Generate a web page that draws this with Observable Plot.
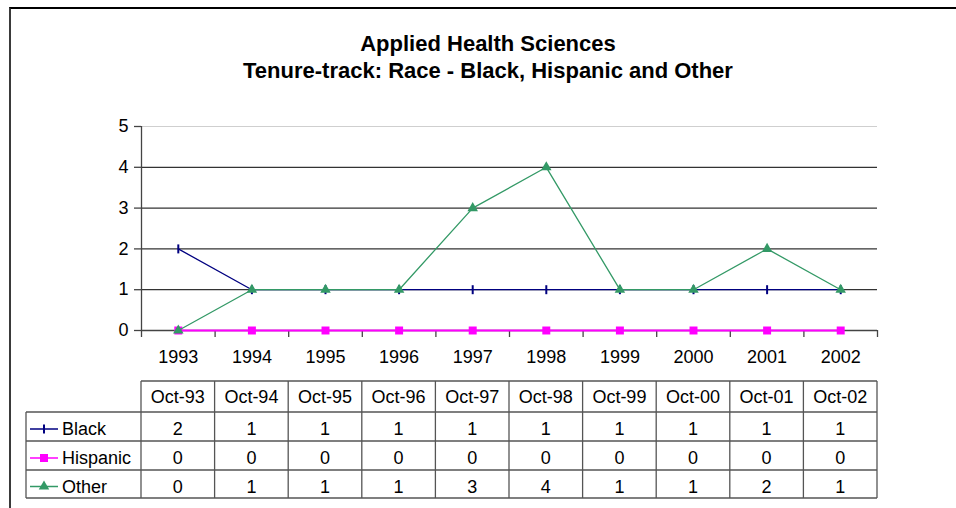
<!DOCTYPE html>
<html><head><meta charset="utf-8">
<script src="https://cdn.jsdelivr.net/npm/d3@7"></script>
<script src="https://cdn.jsdelivr.net/npm/@observablehq/plot@0.6"></script>
<style>
body{margin:0;background:#fff;font-family:"Liberation Sans",Arial,sans-serif;}
#wrap{position:relative;width:956px;height:508px;overflow:hidden;background:#fff}
#frame{position:absolute;left:9px;top:7px;width:980px;height:540px;border-top:2px solid #000;border-left:2px solid #3a3a3a;}
.title{position:absolute;left:0;width:976px;text-align:center;font-weight:bold;font-size:22px;color:#000;line-height:24px}
#chart{position:absolute;left:0;top:0}
#table{position:absolute;left:0;top:0}
</style></head>
<body>
<div id="wrap">
  <div id="frame"></div>
  <div class="title" style="top:32px">Applied Health Sciences</div>
  <div class="title" style="top:59px">Tenure-track: Race - Black, Hispanic and Other</div>
  <div id="chart"></div>
  <svg id="table" width="956" height="508"></svg>
</div>
<script>
const years = ["1993","1994","1995","1996","1997","1998","1999","2000","2001","2002"];
const months = ["Oct-93","Oct-94","Oct-95","Oct-96","Oct-97","Oct-98","Oct-99","Oct-00","Oct-01","Oct-02"];
const seriesNames = ["Black","Hispanic","Other"];
const black =    [2,1,1,1,1,1,1,1,1,1];
const hispanic = [0,0,0,0,0,0,0,0,0,0];
const other =    [0,1,1,1,3,4,1,1,2,1];
const yTicks = [0,1,2,3,4,5];

const colors = {Black:"#000080", Hispanic:"#FF00FF", Other:"#339966"};
const valuesBy = {Black:black, Hispanic:hispanic, Other:other};
const data = seriesNames.flatMap(s => valuesBy[s].map((v,i)=>({series:s, i:i+0.5, v})));
const bySeries = s => data.filter(d=>d.series===s);

const vtick = {draw(ctx, size){ ctx.moveTo(0,-4.5); ctx.lineTo(0,4.5); }};

const plot = Plot.plot({
  width:956, height:370,
  marginLeft:141, marginRight:79, marginTop:126, marginBottom:40,
  style:{fontFamily:"'Liberation Sans', Arial, sans-serif", fontSize:"18px", background:"transparent", color:"#000", overflow:"visible"},
  x:{domain:[0,10]},
  y:{domain:[0,5]},
  marks:[
    Plot.ruleY([5], {stroke:"#cfcfcf", strokeWidth:1.2}),
    Plot.ruleY([1,2,3,4], {stroke:"#333", strokeWidth:1.3}),
    Plot.ruleY([0], {stroke:"#444", strokeWidth:1.3}),
    Plot.ruleX([0], {stroke:"#444", strokeWidth:1.3}),
    Plot.axisY({ticks:yTicks, tickSize:7, tickPadding:6, tickFormat:d3.format("d"), stroke:"#444", strokeWidth:1.3, fill:"#000", label:null, fontSize:18}),
    Plot.axisX({ticks:d3.range(11), tickSize:7, tickFormat:()=>"", stroke:"#444", strokeWidth:1.3, label:null}),
    Plot.axisX({ticks:years.map((_,i)=>i+0.5), tickSize:0, tickPadding:20, tickFormat:d=>years[Math.floor(d)], fill:"#000", label:null, fontSize:18}),
    Plot.line(bySeries("Black"), {x:"i", y:"v", stroke:colors.Black, strokeWidth:1.3}),
    Plot.dot(bySeries("Black"), {x:"i", y:"v", symbol:vtick, stroke:colors.Black, strokeWidth:2, r:4}),
    Plot.line(bySeries("Hispanic"), {x:"i", y:"v", stroke:colors.Hispanic, strokeWidth:2}),
    Plot.dot(bySeries("Hispanic"), {x:"i", y:"v", symbol:"square", fill:colors.Hispanic, r:4.5}),
    Plot.line(bySeries("Other"), {x:"i", y:"v", stroke:colors.Other, strokeWidth:1.3}),
    Plot.dot(bySeries("Other"), {x:"i", y:"v", symbol:"triangle", fill:colors.Other, r:3.9})
  ]
});
document.getElementById("chart").appendChild(plot);

// data table aligned with the x scale
const xs = plot.scale("x");
const colX = d3.range(11).map(i => xs.apply(i));
const rowY = [381, 412, 441, 470, 498];
const labelX0 = 26;
const svg = d3.select("#table");
const lc = "#555";
svg.append("line").attr("x1",colX[0]).attr("x2",colX[10]).attr("y1",rowY[0]).attr("y2",rowY[0]);
for (let r=1; r<rowY.length; r++)
  svg.append("line").attr("x1",labelX0).attr("x2",colX[10]).attr("y1",rowY[r]).attr("y2",rowY[r]);
colX.forEach(x => svg.append("line").attr("x1",x).attr("x2",x).attr("y1",rowY[0]).attr("y2",rowY[4]));
svg.append("line").attr("x1",labelX0).attr("x2",labelX0).attr("y1",rowY[1]).attr("y2",rowY[4]);
svg.selectAll("line").attr("stroke",lc).attr("stroke-width",1.3);

const font = "'Liberation Sans', Arial, sans-serif";
months.forEach((m,i)=>{
  svg.append("text").attr("x",(colX[i]+colX[i+1])/2).attr("y",(rowY[0]+rowY[1])/2).attr("dy","0.35em")
    .attr("text-anchor","middle").attr("font-family",font).attr("font-size",18).text(m);
});
seriesNames.forEach((s,r)=>{
  const yc = (rowY[r+1]+rowY[r+2])/2 + 2.5;
  valuesBy[s].forEach((v,i)=>{
    svg.append("text").attr("x",(colX[i]+colX[i+1])/2).attr("y",yc).attr("dy","0.35em")
      .attr("text-anchor","middle").attr("font-family",font).attr("font-size",18).text(v);
  });
  svg.append("line").attr("x1",30).attr("x2",58).attr("y1",yc).attr("y2",yc).attr("stroke",colors[s]).attr("stroke-width",1.5);
  if (s==="Black") svg.append("line").attr("x1",44).attr("x2",44).attr("y1",yc-4.5).attr("y2",yc+4.5).attr("stroke",colors[s]).attr("stroke-width",2);
  if (s==="Hispanic") svg.append("rect").attr("x",40).attr("y",yc-4).attr("width",8).attr("height",8).attr("fill",colors[s]);
  if (s==="Other") svg.append("path").attr("d",d3.symbol(d3.symbolTriangle, Math.PI*3.9*3.9)()).attr("transform",`translate(44,${yc})`).attr("fill",colors[s]);
  svg.append("text").attr("x",62).attr("y",yc).attr("dy","0.35em").attr("font-family",font).attr("font-size",18).text(s);
});
</script>
</body></html>
